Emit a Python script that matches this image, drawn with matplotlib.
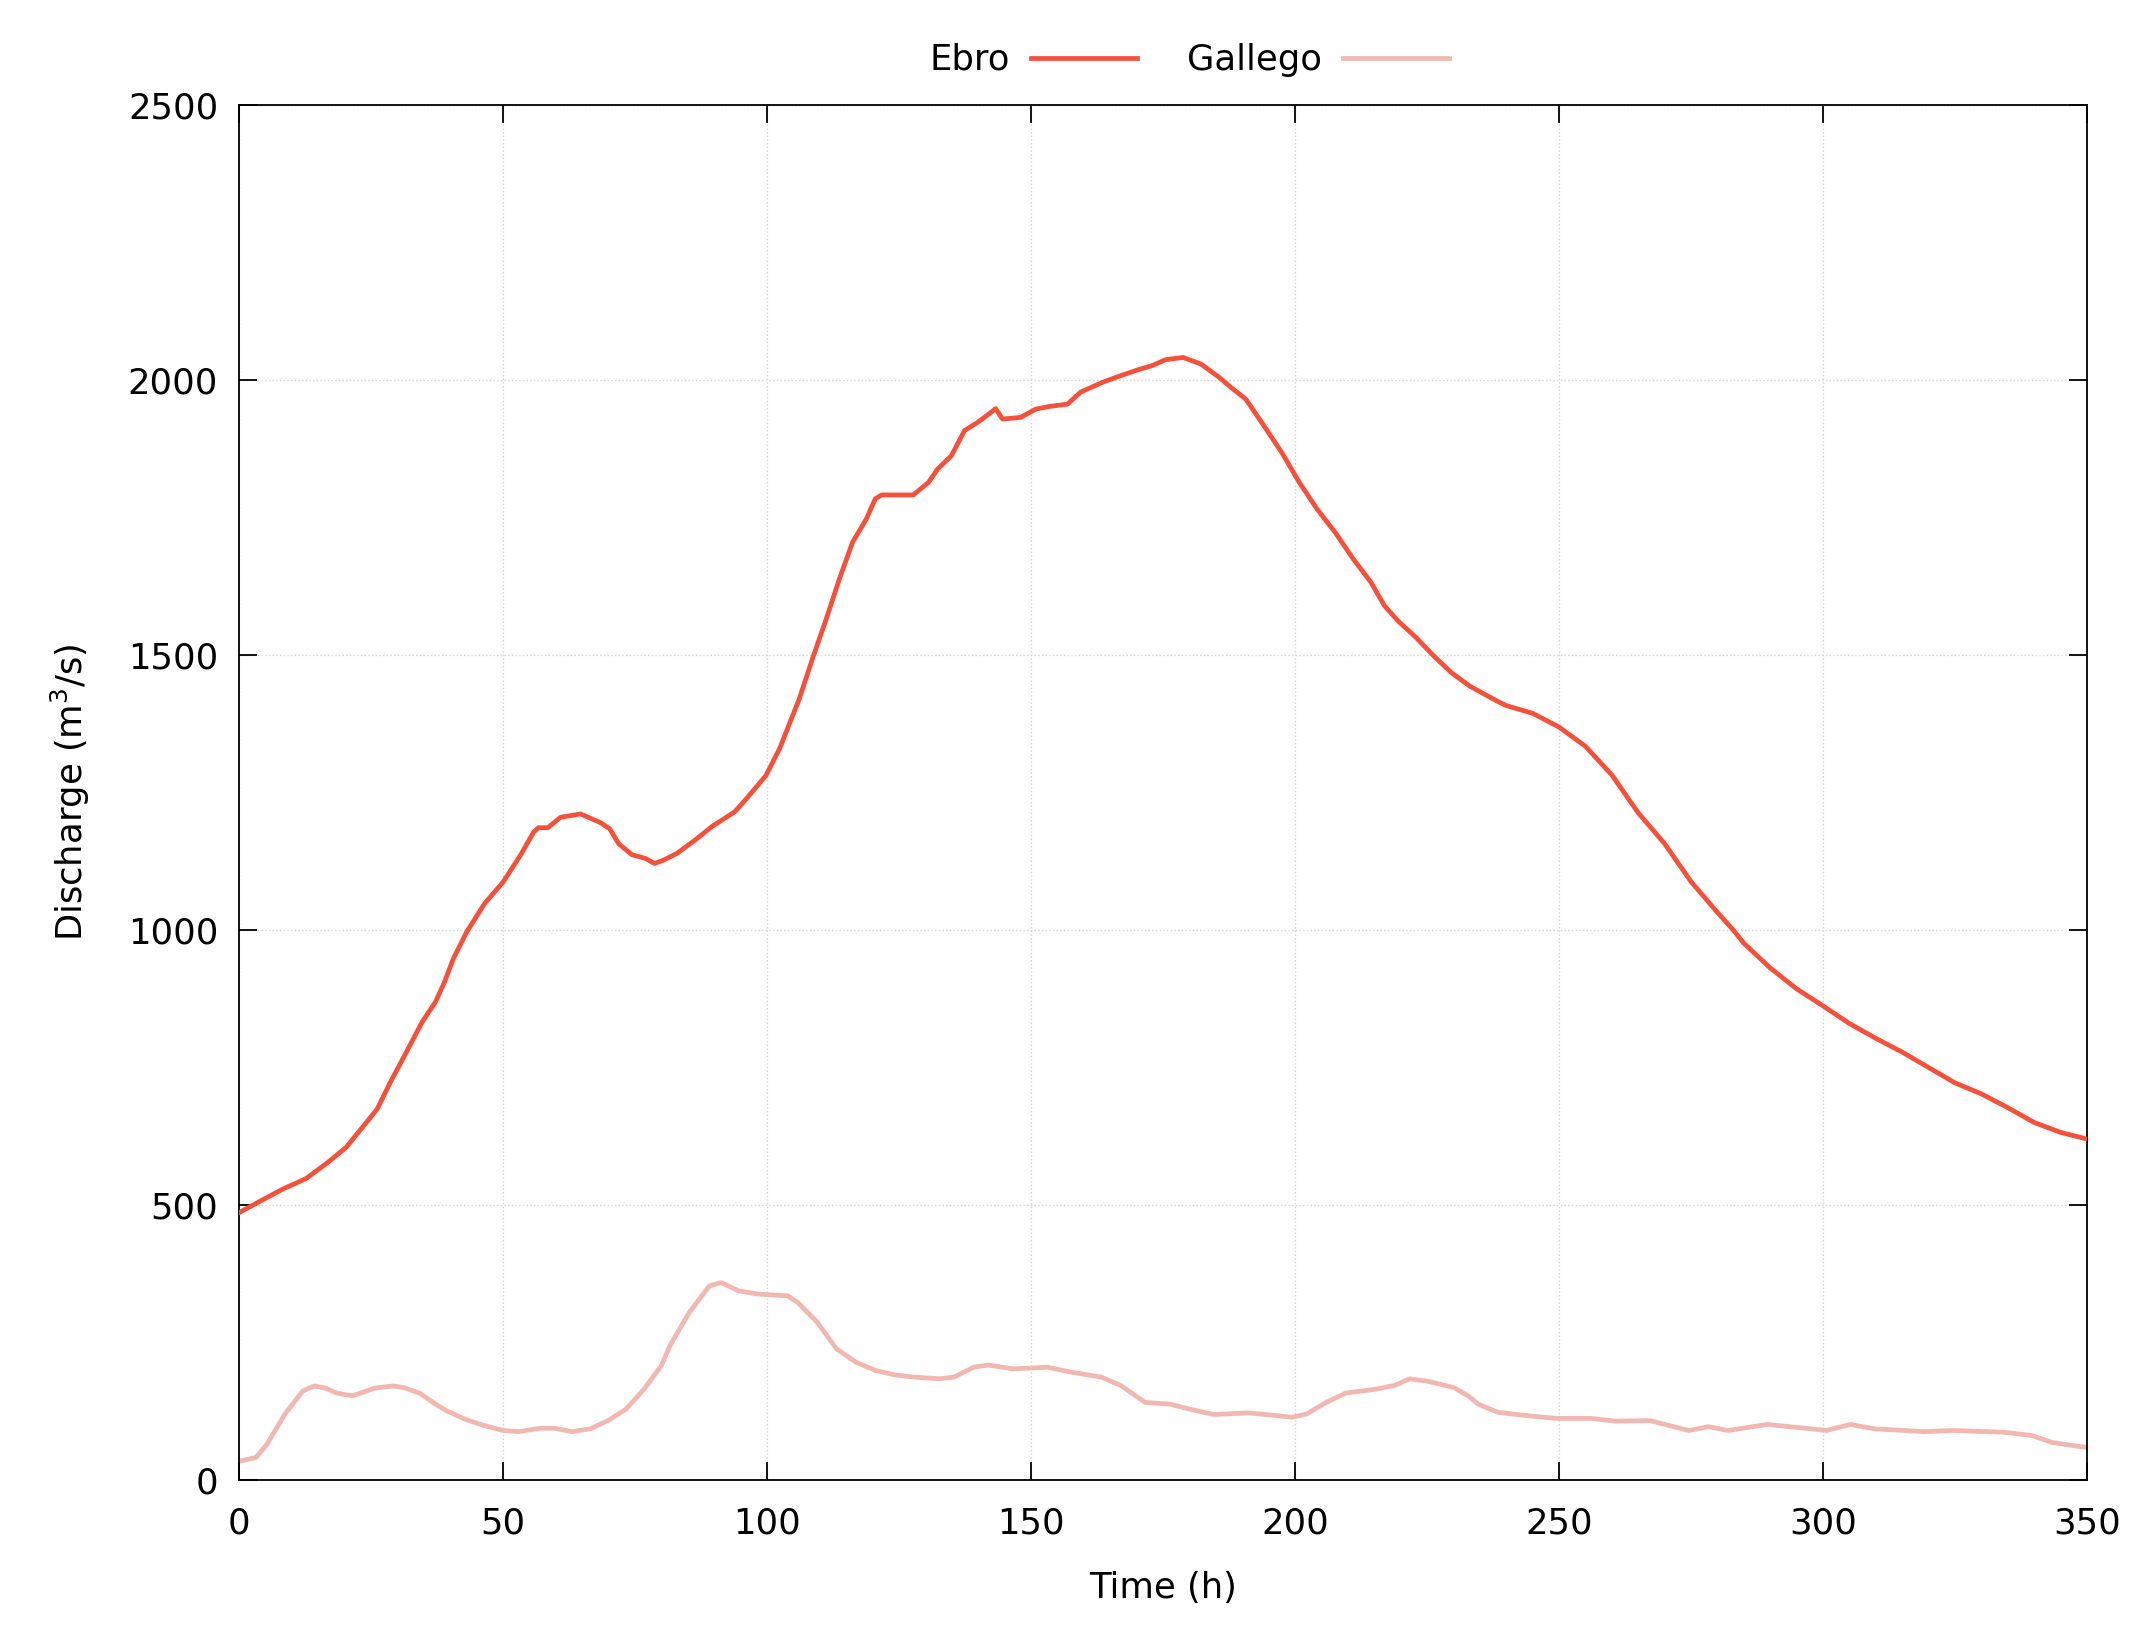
import matplotlib
matplotlib.use('Agg')
import matplotlib.pyplot as plt
import numpy as np

# Ebro discharge (time in h, m3/s)
ebro_t = [0, 4.2, 8.5, 12.7, 16.9, 20.3, 23.7, 26.2, 28.7, 31.7, 34.7, 37.2, 38.9,
          40.6, 43.1, 46.5, 50, 53.3, 55.8, 56.7, 58.5, 60.9, 64.7, 68.5, 70.2, 71.9,
          74.4, 77, 78.7, 80.4, 82.9, 86.3, 89.7, 93.9, 96.4, 99.8, 102.4, 106.1,
          108.6, 111.2, 113.7, 116.2, 118.8, 120.5, 121.7, 127.7, 130.6, 132.3, 134.9,
          137.4, 139.9, 142.0, 143.3, 144.6, 148, 150.9, 153.5, 156.9, 159.4, 163.6,
          167, 170.4, 172.9, 175.5, 178.8, 182.2, 185.6, 188.2, 190.7, 194.1, 197.5,
          200.8, 204.2, 207.6, 211, 214.4, 216.9, 219.5, 222.9, 226.2, 229.6, 233,
          238.1, 240, 245, 250, 255, 260, 265, 270, 275, 280, 283, 285, 290, 295, 300,
          305, 310, 315, 320, 325, 330, 335, 340, 345, 350]
ebro_q = [486, 508, 530, 548, 578, 605, 645, 675, 724, 778, 833, 869, 905,
          948, 996, 1048, 1087, 1136, 1178, 1186, 1186, 1205, 1211, 1195, 1184, 1157,
          1137, 1130, 1121, 1127, 1139, 1163, 1189, 1215, 1242, 1281, 1330, 1420,
          1493, 1565, 1638, 1705, 1747, 1784, 1791, 1791, 1814, 1838, 1862,
          1908, 1923, 1938, 1948, 1929, 1932, 1947, 1952, 1956, 1978, 1996,
          2008, 2019, 2026, 2037, 2041, 2029, 2005, 1984, 1965, 1917, 1868,
          1814, 1765, 1723, 1675, 1632, 1590, 1562, 1532, 1499, 1468, 1444,
          1417, 1408, 1394, 1369, 1334, 1282, 1213, 1157, 1088, 1032, 1000, 976, 931, 893, 862,
          830, 803, 778, 750, 722, 702, 677, 650, 632, 620]

# Gallego discharge
gal_t = [0, 3.2, 5.3, 8.7, 12.1, 14.3, 16.4, 18.5, 21.5, 25.7, 29.1, 31.2, 34.2, 37.2,
         39.3, 42.7, 46.1, 50, 52.9, 57.1, 59.7, 63.1, 66.5, 69.9, 73.3, 76.7, 80,
         81.6, 85.3, 89.1, 91.3, 94.6, 98.3, 103.9, 105.8, 109.5, 113.2, 116.9,
         120.6, 124.3, 128, 132.7, 135.4, 139.1, 141.9, 146.6, 153.1, 157.7, 163.3,
         167, 171.6, 176.3, 180, 184.6, 191.1, 196.7, 199.4, 202.2, 205.9, 209.6,
         215.2, 218.9, 221.7, 225.4, 230.1, 232.8, 234.7, 238.4, 244, 249.5, 256,
         260.7, 267.2, 270.9, 274.6, 278.3, 282, 289.4, 296.8, 300.6, 305.2, 309.8,
         319.1, 324.7, 334, 339.5, 343.5, 350]
gal_q = [34, 41, 65, 120, 162, 171, 167, 158, 153, 167, 171, 168, 158, 138,
         126, 111, 100, 90, 88, 94, 94, 88, 93, 108, 129, 165, 208,
         244, 305, 353, 359, 344, 338, 335, 323, 287, 238, 214,
         199, 191, 187, 184, 187, 205, 209, 202, 205, 196, 187,
         172, 141, 138, 129, 119, 122, 117, 114, 120, 141, 158,
         165, 172, 184, 179, 168, 153, 138, 123, 117, 112, 112,
         107, 108, 99, 90, 97, 90, 101, 94, 90, 101, 93,
         88, 90, 87, 81, 68, 59]

fig = plt.figure(figsize=(21.39, 16.37), dpi=100)
ax = fig.add_axes([239 / 2139, 1 - 1480 / 1637, (2087 - 239) / 2139, (1480 - 105) / 1637])

ax.plot(ebro_t, ebro_q, color='#f4503a', lw=3.4, label='Ebro', zorder=3)
ax.plot(gal_t, gal_q, color='#f0b8b0', lw=3.4, label='Gallego', zorder=2)

ax.set_xlim(0, 350)
ax.set_ylim(0, 2500)
ax.set_xticks(np.arange(0, 351, 50))
ax.set_yticks(np.arange(0, 2501, 500))
ax.grid(True, color='#d4d4d4', linestyle=':', linewidth=1.0)
ax.set_axisbelow(True)
ax.tick_params(direction='in', length=13, width=1.3, top=True, right=True,
               labelsize=25.5)
ax.tick_params(axis='x', pad=19)
ax.tick_params(axis='y', pad=15)
for s in ax.spines.values():
    s.set_linewidth(1.3)

ax.set_xlabel('Time (h)', fontsize=25.5, labelpad=22)
ax.set_ylabel('Discharge (m$^3$/s)', fontsize=25.5, labelpad=26)

fig.legend(loc='center', bbox_to_anchor=(0.556, 1 - 60 / 1637), ncol=2,
           frameon=False, markerfirst=False, fontsize=25.5, handlelength=3.0,
           handletextpad=0.6, columnspacing=1.4)

fig.savefig('out.png', dpi=100)
